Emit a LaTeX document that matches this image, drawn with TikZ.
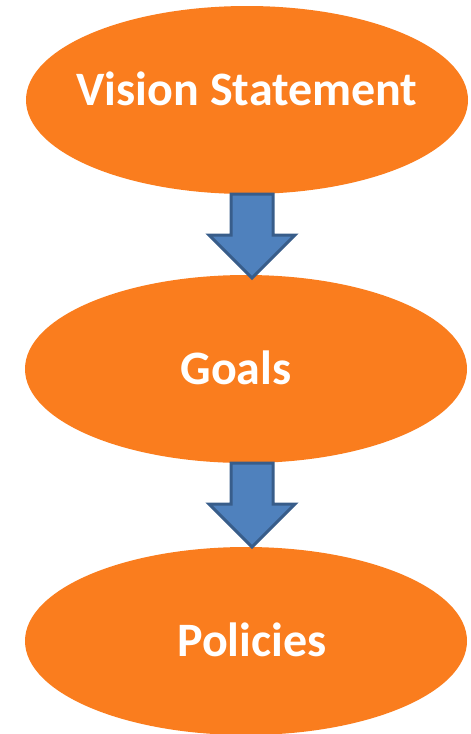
\documentclass[tikz,border=0pt]{standalone}
\usepackage{fontspec}
\setmainfont{Carlito}
\usepackage{tikz}
\usetikzlibrary{shapes, positioning, calc}

\definecolor{stepfill}{HTML}{FA7D1E}
\definecolor{arrowfill}{HTML}{4F81BD}
\definecolor{arrowline}{HTML}{385D8A}

\tikzset{
  stage/.style={ellipse, fill=stepfill, draw=none, minimum width=442pt, minimum height=188pt,
    inner sep=0pt, outer sep=0pt, text=white, font=\fontsize{48}{50}\selectfont\bfseries,
    text height=30pt, text depth=0pt},
  blockarrow/.style={fill=arrowfill, draw=arrowline, line width=3pt, line join=miter}
}

\begin{document}
\begin{tikzpicture}[x=1pt, y=-1pt]
\useasboundingbox (0,0) rectangle (471,734);

\node [stage, text depth=20pt] (vision) at (247,100) {\makebox[0pt][c]{Vision Statement}};
\node [stage] (goals) at (246,369) {\hspace*{-20pt}Goals};
\node [stage] (policies) at (246,641) {\hspace*{12pt}Policies};

% vision -> goals
\draw [blockarrow] ([xshift=-16pt]vision.south) -- ([xshift=26pt]vision.south)
  -- ([xshift=27pt,yshift=40pt]goals.north) -- ([xshift=49pt,yshift=40pt]goals.north)
  -- ([xshift=6pt,yshift=-3pt]goals.north) -- ([xshift=-37pt,yshift=40pt]goals.north)
  -- ([xshift=-15pt,yshift=40pt]goals.north) -- cycle;

% goals -> policies
\draw [blockarrow] ([xshift=-15pt]goals.south) -- ([xshift=27pt]goals.south)
  -- ([xshift=27pt,yshift=43pt]policies.north) -- ([xshift=49pt,yshift=43pt]policies.north)
  -- ([xshift=6pt]policies.north) -- ([xshift=-37pt,yshift=43pt]policies.north)
  -- ([xshift=-15pt,yshift=43pt]policies.north) -- cycle;
\end{tikzpicture}
\end{document}
